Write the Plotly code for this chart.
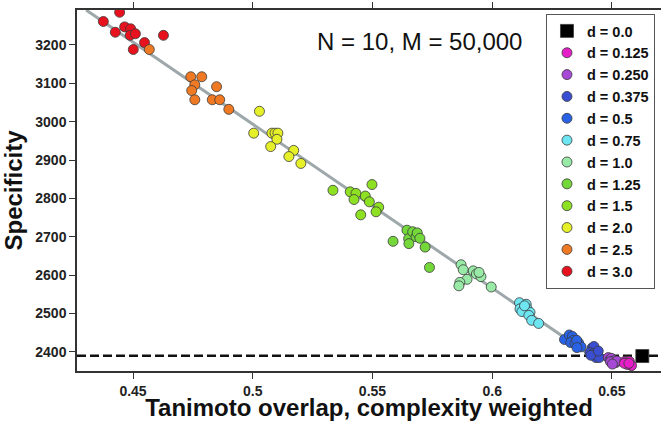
import plotly.graph_objects as go

# ---- data ----
d_labels = ["d = 0.0", "d = 0.125", "d = 0.250", "d = 0.375", "d = 0.5", "d = 0.75",
            "d = 1.0", "d = 1.25", "d = 1.5", "d = 2.0", "d = 2.5", "d = 3.0"]
d_colors = ["#000000", "#e61ec8", "#a64ad6", "#3a4ed2", "#2a62e6", "#6ee6f2",
            "#98eaa6", "#74d83a", "#8ee022", "#e6f028", "#f07a24", "#e8121e"]

x_d000 = [0.6627]
y_d000 = [2389]

x_d0125 = [0.6554, 0.6558, 0.6563, 0.6567, 0.6573, 0.6575, 0.6582, 0.6565, 0.6552, 0.6571]
y_d0125 = [2375, 2371, 2375, 2371, 2375, 2367, 2364, 2367, 2370, 2370]

x_d0250 = [0.6485, 0.6492, 0.6498, 0.6500, 0.6506, 0.6511, 0.6517, 0.6494, 0.6521, 0.6502]
y_d0250 = [2385, 2379, 2383, 2375, 2371, 2377, 2372, 2374, 2376, 2368]

x_d0375 = [0.6417, 0.6429, 0.6425, 0.6408, 0.6422, 0.6439, 0.6433, 0.6447, 0.6412, 0.6443]
y_d0375 = [2410, 2405, 2414, 2398, 2395, 2393, 2385, 2385, 2391, 2402]

x_d05 = [0.6302, 0.6322, 0.6335, 0.6339, 0.6328, 0.6346, 0.6361, 0.6371, 0.6353, 0.6354]
y_d05 = [2432, 2444, 2440, 2430, 2424, 2422, 2423, 2413, 2430, 2411]

x_d075 = [0.6114, 0.6142, 0.6116, 0.6145, 0.6158, 0.6124, 0.6153, 0.6135, 0.6165, 0.6194]
y_d075 = [2528, 2524, 2512, 2513, 2503, 2505, 2495, 2520, 2482, 2474]

x_d10 = [0.5870, 0.5879, 0.5921, 0.5934, 0.5953, 0.5945, 0.5895, 0.5865, 0.5861, 0.5996]
y_d10 = [2627, 2614, 2611, 2603, 2596, 2607, 2589, 2581, 2572, 2569]

x_d125 = [0.5586, 0.5644, 0.5651, 0.5652, 0.5668, 0.5682, 0.5687, 0.5698, 0.5720, 0.5738]
y_d125 = [2688, 2717, 2695, 2682, 2713, 2700, 2710, 2696, 2673, 2620]

x_d15 = [0.5335, 0.5407, 0.5431, 0.5423, 0.5470, 0.5487, 0.5498, 0.5526, 0.5515, 0.5451]
y_d15 = [2821, 2817, 2813, 2797, 2806, 2791, 2836, 2777, 2765, 2757]

x_d20 = [0.5028, 0.5004, 0.5080, 0.5093, 0.5105, 0.5101, 0.5075, 0.5171, 0.5151, 0.5201]
y_d20 = [3027, 2970, 2970, 2970, 2970, 2954, 2935, 2925, 2909, 2891]

x_d25 = [0.4568, 0.4741, 0.4787, 0.4758, 0.4745, 0.4849, 0.4758, 0.4831, 0.4862, 0.4900]
y_d25 = [3188, 3117, 3117, 3096, 3081, 3091, 3057, 3057, 3057, 3032]

x_d30 = [0.4376, 0.4444, 0.4426, 0.4465, 0.4490, 0.4488, 0.4510, 0.4501, 0.4548, 0.4627]
y_d30 = [3261, 3285, 3233, 3247, 3242, 3225, 3229, 3188, 3206, 3225]

fit_x = [0.4304, 0.6450]
fit_y = [3291, 2374]

baseline_y = 2390
annotation_text = "N = 10, M = 50,000"

x_ticks = [0.45, 0.5, 0.55, 0.6, 0.65]
x_ticklabels = ["0.45", "0.5", "0.55", "0.6", "0.65"]
y_ticks = [2400, 2500, 2600, 2700, 2800, 2900, 3000, 3100, 3200]

series_x = [x_d000, x_d0125, x_d0250, x_d0375, x_d05, x_d075, x_d10, x_d125, x_d15, x_d20, x_d25, x_d30]
series_y = [y_d000, y_d0125, y_d0250, y_d0375, y_d05, y_d075, y_d10, y_d125, y_d15, y_d20, y_d25, y_d30]

FONT = "Liberation Sans, Arial, sans-serif"

fig = go.Figure()

fig.add_trace(go.Scatter(x=fit_x, y=fit_y, mode="lines",
                         line=dict(color="#9ea8aa", width=3),
                         showlegend=False, hoverinfo="skip"))

# draw from high d to low d so that the right-hand clusters sit on top
for i in reversed(range(len(d_labels))):
    is_square = (i == 0)
    fig.add_trace(go.Scatter(
        x=series_x[i], y=series_y[i], mode="markers", name=d_labels[i],
        legendrank=i + 1,
        marker=dict(symbol="square" if is_square else "circle",
                    size=13 if is_square else 10,
                    color=d_colors[i],
                    line=dict(color="#3a3a3a", width=0.8)),
    ))

fig.add_shape(type="line", xref="paper", x0=0, x1=1, yref="y",
              y0=baseline_y, y1=baseline_y,
              line=dict(color="#111111", width=2.5, dash="9px,4px"), layer="below")

fig.add_annotation(x=0.587, y=0.914, xref="paper", yref="paper", text=annotation_text,
                   showarrow=False, xanchor="center", yanchor="middle",
                   font=dict(family=FONT, size=24, color="#111111"))

fig.update_layout(
    width=661, height=421,
    margin=dict(l=77, r=0, t=10, b=50, autoexpand=False),
    paper_bgcolor="white", plot_bgcolor="white",
    font=dict(family=FONT, color="#222222"),
    legend=dict(x=0.9897, y=0.989, xanchor="right", yanchor="top",
                bordercolor="#555555", borderwidth=1, bgcolor="white",
                font=dict(family=FONT, size=14.5, color="#111111", weight="bold"),
                itemsizing="trace", tracegroupgap=0),
    xaxis=dict(range=[0.4266, 0.6705], tickvals=x_ticks, ticktext=x_ticklabels,
               automargin=False,
               showgrid=False, zeroline=False, showline=True, linecolor="#333333",
               linewidth=1.5, mirror="ticks", ticks="outside", ticklen=6,
               tickcolor="#333333",
               tickfont=dict(family=FONT, size=14, color="#222222", weight="bold"),
               title=dict(text="Tanimoto overlap, complexity weighted", standoff=0,
                          font=dict(family=FONT, size=24, color="#111111", weight="bold"))),
    yaxis=dict(range=[2350, 3291], tickvals=y_ticks, automargin=False,
               showgrid=False, zeroline=False, showline=True, linecolor="#333333",
               linewidth=1.5, ticks="outside", ticklen=6, tickcolor="#333333",
               tickfont=dict(family=FONT, size=14, color="#222222", weight="bold"),
               title=dict(text="Specificity", standoff=6,
                          font=dict(family=FONT, size=24, color="#111111", weight="bold"))),
    showlegend=True,
)

fig.write_html("out.html", config={"displayModeBar": False},
               post_script="document.body.style.margin='0';document.body.style.padding='0';")
